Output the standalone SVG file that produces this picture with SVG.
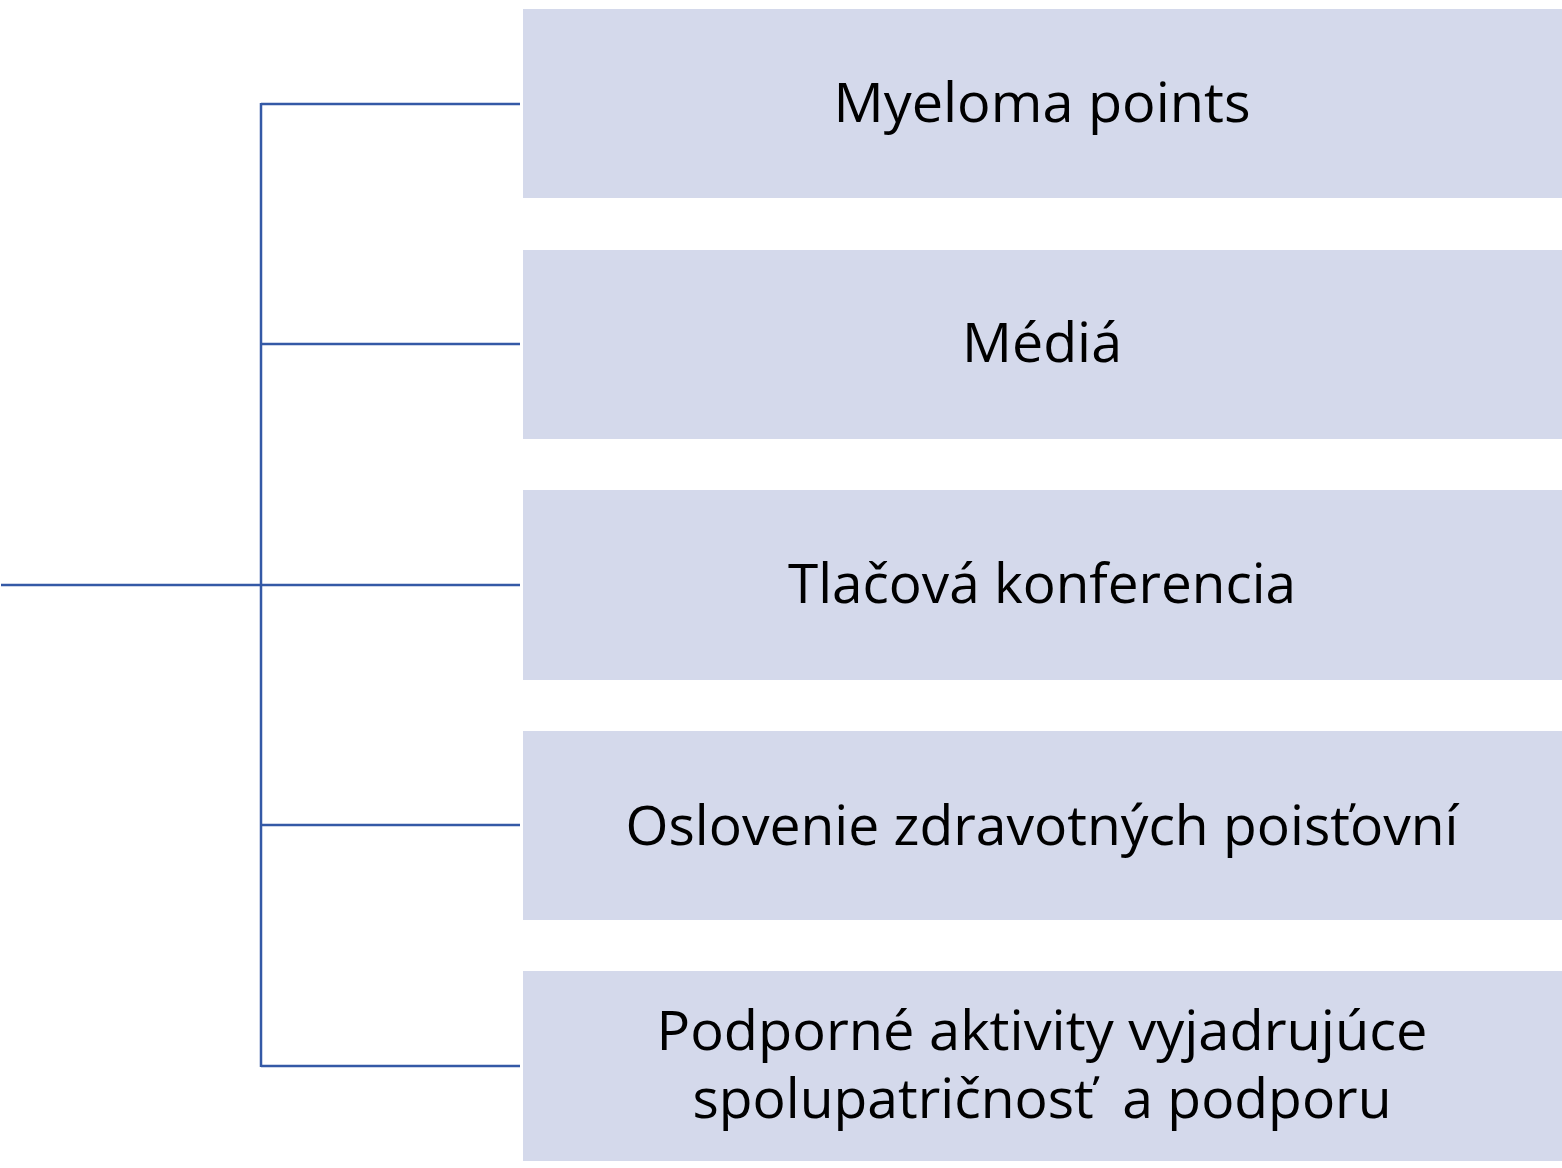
<svg xmlns="http://www.w3.org/2000/svg" width="1562" height="1168" viewBox="0 0 1562 1168">
<style>
.box{fill:#d4d9eb}
.lbl{font-family:"Open Sans","Liberation Sans",sans-serif;font-size:54px;fill:#000;text-anchor:middle}
.conn{stroke:#3459a6;stroke-width:2.5;fill:none}
</style>
<rect width="1562" height="1168" fill="#fff"/>
<g id="connectors" class="conn">
<line x1="1" y1="585" x2="261" y2="585"/>
<line x1="261" y1="103" x2="261" y2="1067"/>
<line x1="261" y1="104" x2="520" y2="104"/>
<line x1="261" y1="344" x2="520" y2="344"/>
<line x1="261" y1="585" x2="520" y2="585"/>
<line x1="261" y1="825" x2="520" y2="825"/>
<line x1="261" y1="1066" x2="520" y2="1066"/>
</g>
<g id="node1"><rect class="box" x="523" y="9" width="1039" height="189"/><text class="lbl" x="1042" y="122" textLength="417" lengthAdjust="spacingAndGlyphs">Myeloma points</text></g>
<g id="node2"><rect class="box" x="523" y="250" width="1039" height="189"/><text class="lbl" x="1042" y="362" textLength="160" lengthAdjust="spacingAndGlyphs">Médiá</text></g>
<g id="node3"><rect class="box" x="523" y="490" width="1039" height="190"/><text class="lbl" x="1042" y="603" textLength="508" lengthAdjust="spacingAndGlyphs">Tlačová konferencia</text></g>
<g id="node4"><rect class="box" x="523" y="731" width="1039" height="189"/><text class="lbl" x="1042" y="845" textLength="833" lengthAdjust="spacingAndGlyphs">Oslovenie zdravotných poisťovní</text></g>
<g id="node5"><rect class="box" x="523" y="971" width="1039" height="190"/><text class="lbl" x="1042" y="1050" textLength="771" lengthAdjust="spacingAndGlyphs">Podporné aktivity vyjadrujúce</text><text class="lbl" x="1042" y="1118" textLength="699" lengthAdjust="spacingAndGlyphs" xml:space="preserve">spolupatričnosť  a podporu</text></g>
</svg>
